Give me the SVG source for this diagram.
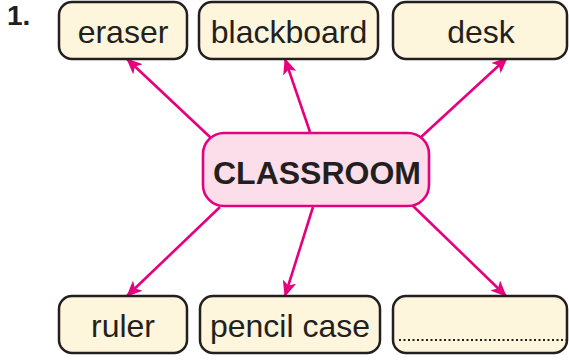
<svg xmlns="http://www.w3.org/2000/svg" width="569" height="360" viewBox="0 0 569 360">
<style>
.box{fill:#fdf5dc;stroke:#231f20;stroke-width:2.5}
.lbl{font-family:"Liberation Sans",Arial,sans-serif;font-size:32px;fill:#231f20;text-anchor:middle}
.con{stroke:#e6007e;stroke-width:2.6;fill:none;marker-end:url(#ah)}
</style>
<defs>
<marker id="ah" markerUnits="userSpaceOnUse" markerWidth="16" markerHeight="14" refX="15" refY="7" orient="auto" viewBox="0 0 16 14">
<path d="M0,0 L16,7 L0,14 L4,7 Z" fill="#e6007e"/>
</marker>
</defs>
<rect width="569" height="360" fill="#fff"/>
<text x="7" y="25" font-family="Liberation Sans,Arial,sans-serif" font-weight="bold" font-size="28" fill="#231f20">1.</text>
<g id="connectors">
<line class="con" x1="211" y1="138" x2="127" y2="59"/>
<line class="con" x1="310" y1="132" x2="285" y2="59"/>
<line class="con" x1="420" y1="138" x2="507" y2="58"/>
<line class="con" x1="220" y1="207" x2="127" y2="296"/>
<line class="con" x1="313" y1="207" x2="285" y2="296"/>
<line class="con" x1="412" y1="205" x2="506" y2="296"/>
</g>
<g id="classroom">
<rect x="203" y="133" width="226" height="73" rx="21" fill="#fcdeea" stroke="#e6007e" stroke-width="2.6"/>
<text x="317" y="184" font-family="Liberation Sans,Arial,sans-serif" font-weight="bold" font-size="32" fill="#231f20" text-anchor="middle">CLASSROOM</text>
</g>
<g id="eraser">
<rect class="box" x="59" y="2" width="128" height="57" rx="13"/>
<text class="lbl" x="123" y="43">eraser</text>
</g>
<g id="blackboard">
<rect class="box" x="199" y="2" width="179" height="57" rx="13"/>
<text class="lbl" x="289" y="43">blackboard</text>
</g>
<g id="desk">
<rect class="box" x="393" y="2" width="174" height="57" rx="13"/>
<text class="lbl" x="481" y="43">desk</text>
</g>
<g id="ruler">
<rect class="box" x="59" y="296" width="128" height="57" rx="13"/>
<text class="lbl" x="123" y="337">ruler</text>
</g>
<g id="pencil-case">
<rect class="box" x="200" y="296" width="180" height="57" rx="13"/>
<text class="lbl" x="290" y="337">pencil case</text>
</g>
<g id="blank">
<rect class="box" x="393" y="296" width="174" height="57" rx="13"/>
<line x1="399" y1="340" x2="566" y2="340" stroke="#231f20" stroke-width="2" stroke-dasharray="2 2.5"/>
</g>
</svg>
